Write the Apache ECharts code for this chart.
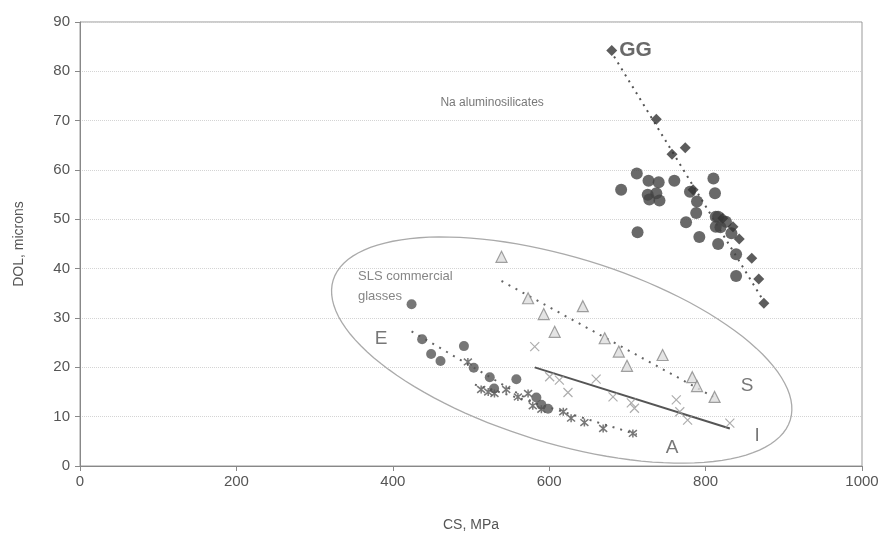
<!DOCTYPE html>
<html>
<head>
<meta charset="utf-8">
<script src="https://cdn.jsdelivr.net/npm/echarts@6/dist/echarts.min.js"></script>
<style>
  html, body { margin: 0; padding: 0; background: #fff; }
  #chart { width: 884px; height: 537px; }
</style>
</head>
<body>
<div id="chart"></div>
<script>
// Na aluminosilicates, GG glass (diamonds) [CS, DOL]
const ggPoints = [
  [680, 84.2], [737, 70.3], [757, 63.2], [774, 64.5], [784, 56],
  [822, 50.2], [835, 48.5], [843, 46], [859, 42.1], [868, 37.9], [874.5, 33]
];
// other Na aluminosilicates (circles)
const naPoints = [
  [692, 56], [712, 59.3], [727, 57.8], [740, 57.5], [760, 57.8],
  [726, 55], [737, 55.3], [728, 54], [741, 53.8], [713, 47.4],
  [780, 55.6], [789, 53.6], [788, 51.3], [775, 49.4], [792, 46.4],
  [810, 58.3], [812, 55.3], [813, 50.5], [816, 50.5], [826, 49.5],
  [813, 48.5], [819, 48.4], [833, 47.2], [816, 45], [839, 42.9], [839, 38.5]
];
// SLS commercial glasses
const ePoints = [
  [424, 32.8], [437.5, 25.7], [449, 22.7], [461, 21.3], [491, 24.3],
  [503.5, 19.9], [524, 18], [529.5, 15.7], [558, 17.6], [583.6, 13.9],
  [590, 12.4], [598.5, 11.6]
];
const aPoints = [
  [496, 21.1], [513, 15.5], [522, 15], [530, 14.7], [545, 15.5], [560, 14],
  [573, 14.7], [579, 12.2], [590, 11.5], [618, 11], [628, 9.7], [645, 8.8],
  [669, 7.6], [707, 6.6]
];
const iPoints = [
  [581.5, 24.2], [600.6, 18.1], [613, 17.4], [624, 14.9], [660, 17.6],
  [681.6, 14], [705, 12.8], [709, 11.7], [762.5, 13.4], [767, 11],
  [777, 9.3], [831, 8.7]
];
const sPoints = [
  [539, 42.4], [573, 34], [593, 30.8], [607, 27.2], [643, 32.4],
  [671, 25.9], [689, 23.2], [699.5, 20.3], [745, 22.5], [783, 18],
  [789, 16.2], [811.5, 14]
];
// trend lines
const ggTrend = [[683, 83], [872, 34]];
const eTrend = [[424, 27.3], [600, 11]];
const aTrend = [[505, 16.5], [712, 6.4]];
const sTrend = [[539, 37.5], [810, 14]];
const iTrend = [[581.5, 20], [831, 7.6]];
// annotation labels [CS, DOL]
const notes = [
  { name: 'E', value: [385, 25.7] },
  { name: 'S', value: [853, 16.2] },
  { name: 'A', value: [757, 3.6] },
  { name: 'I', value: [866, 6.1] }
];
const ellipseCenter = [616, 23.5];

const FONT = "'Liberation Sans', Arial, sans-serif";
const chart = echarts.init(document.getElementById('chart'));

const xPath = 'path://M0,0L10,10M10,0L0,10';
const starPath = 'path://M0,0L10,10M10,0L0,10M5,-1L5,11';

function trend (data, color, type, width) {
  return {
    type: 'line', data: data, symbol: 'none', silent: true,
    lineStyle: { color: color, type: type, width: width }, z: 1
  };
}

chart.setOption({
  animation: false,
  backgroundColor: '#fff',
  textStyle: { fontFamily: FONT },
  grid: {
    left: 80, right: 22, top: 22, bottom: 71,
    show: true, borderColor: '#999', borderWidth: 1
  },
  xAxis: {
    type: 'value', min: 0, max: 1000, interval: 200,
    name: 'CS, MPa', nameLocation: 'middle', nameGap: 52,
    nameTextStyle: { color: '#555', fontSize: 14, fontFamily: FONT },
    axisLine: { lineStyle: { color: '#888' } },
    axisTick: { show: true, length: 5, lineStyle: { color: '#888' } },
    axisLabel: {
      color: '#555', fontSize: 15, margin: 8, fontFamily: FONT,
      formatter: function (v) { return String(v); }
    },
    splitLine: { show: false }
  },
  yAxis: {
    type: 'value', min: 0, max: 90, interval: 10,
    name: 'DOL, microns', nameLocation: 'middle', nameGap: 54,
    nameTextStyle: { color: '#555', fontSize: 14, fontFamily: FONT },
    axisLine: { show: true, lineStyle: { color: '#888' } },
    axisTick: { show: true, length: 5, lineStyle: { color: '#888' } },
    axisLabel: { color: '#555', fontSize: 15, margin: 10, fontFamily: FONT },
    splitLine: { show: true, lineStyle: { color: '#d4d4d4', type: 'dotted' } }
  },
  series: [
    {
      type: 'custom', silent: true, z: 1,
      data: [ellipseCenter],
      renderItem: function (params, api) {
        const c = api.coord([api.value(0), api.value(1)]);
        const a = 239, b = 93, rot = 17 * Math.PI / 180;
        const pts = [];
        for (let i = 0; i <= 120; i++) {
          const t = i / 120 * Math.PI * 2;
          const ex = a * Math.cos(t), ey = b * Math.sin(t);
          pts.push([
            c[0] + ex * Math.cos(rot) - ey * Math.sin(rot),
            c[1] + ex * Math.sin(rot) + ey * Math.cos(rot)
          ]);
        }
        return {
          type: 'polygon', shape: { points: pts },
          style: { fill: 'none', stroke: '#aaa', lineWidth: 1.3 }
        };
      }
    },
    trend(ggTrend, '#555', [2, 5], 2),
    trend(eTrend, '#666', [2, 6], 2),
    trend(aTrend, '#666', [2, 6], 2),
    trend(sTrend, '#666', [2, 6], 2),
    trend(iTrend, '#555', 'solid', 2),
    {
      type: 'scatter', data: naPoints, symbol: 'circle', symbolSize: 12, z: 3,
      itemStyle: { color: '#444' }
    },
    {
      type: 'scatter', data: ggPoints, symbol: 'diamond', symbolSize: 11, z: 4,
      itemStyle: { color: '#333' },
      label: {
        show: true, position: 'right', distance: 2,
        formatter: function (p) { return p.dataIndex === 0 ? 'GG' : ''; },
        color: '#444', fontSize: 21, fontWeight: 'bold', fontFamily: FONT
      }
    },
    {
      type: 'scatter', data: ePoints, symbol: 'circle', symbolSize: 10, z: 3,
      itemStyle: { color: '#555' }
    },
    {
      type: 'scatter', data: aPoints, symbol: starPath, symbolSize: 8, z: 3,
      itemStyle: { color: 'none', borderColor: '#555', borderWidth: 1.5 }
    },
    {
      type: 'scatter', data: iPoints, symbol: xPath, symbolSize: 9, z: 3,
      itemStyle: { color: 'none', borderColor: '#999', borderWidth: 1.2 }
    },
    {
      type: 'scatter', data: sPoints, symbol: 'triangle', symbolSize: 11, z: 3,
      itemStyle: { color: '#ddd', borderColor: '#888', borderWidth: 1.2 }
    },
    {
      type: 'scatter', data: notes, symbolSize: 0, silent: true, z: 5,
      label: {
        show: true, position: 'inside', formatter: '{b}',
        color: '#555', fontSize: 19, fontFamily: FONT
      }
    },
    {
      type: 'scatter', symbolSize: 0, silent: true, z: 5,
      data: [{ name: 'Na aluminosilicates', value: [527, 73.6] }],
      label: {
        show: true, position: 'inside', formatter: '{b}',
        color: '#555', fontSize: 12, fontFamily: FONT
      }
    },
    {
      type: 'scatter', symbolSize: 0, silent: true, z: 5,
      data: [{ name: 'SLS commercial\nglasses', value: [355.5, 36.3] }],
      label: {
        show: true, position: 'inside', align: 'left', formatter: '{b}',
        color: '#666', fontSize: 13, lineHeight: 20, fontFamily: FONT
      }
    }
  ]
});
</script>
</body>
</html>
